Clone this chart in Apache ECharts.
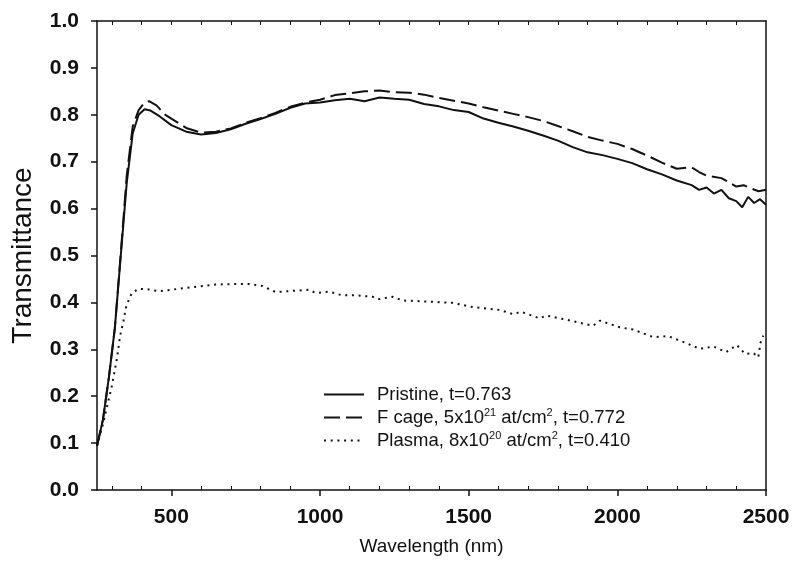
<!DOCTYPE html>
<html>
<head>
<meta charset="utf-8">
<script src="https://cdn.jsdelivr.net/npm/echarts@6/dist/echarts.min.js"></script>
<style>html,body{margin:0;padding:0;background:#fff}#c{width:795px;height:569px}</style>
</head>
<body>
<div id="c"></div>
<script>
// ---- data ----
const seriesNames = ['Pristine', 'F cage', 'Plasma'];
const legendLabels = {
  'Pristine': '{n|Pristine, t=0.763}',
  'F cage': '{n|F cage, 5x10}{s|21}{n| at/cm}{s|2}{n|, t=0.772}',
  'Plasma': '{n|Plasma, 8x10}{s|20}{n| at/cm}{s|2}{n|, t=0.410}'
};
const xMajorTicks = [500, 1000, 1500, 2000, 2500];
const yTicks = [0, 0.1, 0.2, 0.3, 0.4, 0.5, 0.6, 0.7, 0.8, 0.9, 1.0];

const pristineWl = [250, 270, 290, 310, 330, 350, 370, 390, 410, 430, 460, 500, 550, 600, 650, 700, 750, 800, 850, 900, 950, 1000, 1050, 1100, 1150, 1200, 1250, 1300, 1350, 1400, 1450, 1500, 1550, 1600, 1650, 1700, 1750, 1800, 1850, 1900, 1950, 2000, 2050, 2100, 2150, 2200, 2250, 2275, 2300, 2325, 2350, 2375, 2400, 2420, 2440, 2460, 2480, 2500];
const pristineT = [0.094, 0.15, 0.24, 0.345, 0.50, 0.655, 0.76, 0.80, 0.812, 0.809, 0.797, 0.778, 0.764, 0.758, 0.761, 0.769, 0.781, 0.791, 0.802, 0.815, 0.824, 0.826, 0.831, 0.834, 0.829, 0.837, 0.834, 0.832, 0.823, 0.818, 0.81, 0.806, 0.792, 0.783, 0.775, 0.766, 0.756, 0.745, 0.731, 0.72, 0.714, 0.706, 0.697, 0.684, 0.673, 0.66, 0.65, 0.64, 0.645, 0.632, 0.64, 0.622, 0.616, 0.603, 0.625, 0.612, 0.62, 0.608];

const fcageWl = [250, 270, 290, 310, 330, 350, 370, 390, 410, 425, 450, 480, 500, 550, 600, 650, 700, 750, 800, 850, 900, 950, 1000, 1050, 1100, 1150, 1200, 1250, 1300, 1350, 1400, 1450, 1500, 1550, 1600, 1650, 1700, 1750, 1800, 1850, 1900, 1950, 2000, 2050, 2100, 2150, 2200, 2250, 2275, 2300, 2350, 2400, 2425, 2450, 2475, 2500];
const fcageT = [0.094, 0.15, 0.24, 0.345, 0.505, 0.67, 0.775, 0.81, 0.826, 0.829, 0.82, 0.80, 0.792, 0.772, 0.762, 0.764, 0.771, 0.783, 0.793, 0.804, 0.817, 0.826, 0.832, 0.842, 0.846, 0.85, 0.852, 0.848, 0.847, 0.843, 0.836, 0.83, 0.824, 0.816, 0.809, 0.802, 0.795, 0.787, 0.776, 0.765, 0.753, 0.745, 0.738, 0.727, 0.713, 0.698, 0.685, 0.688, 0.678, 0.67, 0.665, 0.647, 0.65, 0.643, 0.637, 0.64];

const plasmaWl = [250, 270, 290, 300, 317, 328, 339, 347, 356, 367, 390, 420, 457, 500, 550, 592, 648, 700, 761, 806, 851, 896, 963, 986, 1030, 1075, 1120, 1177, 1199, 1244, 1278, 1357, 1446, 1514, 1604, 1649, 1677, 1739, 1761, 1829, 1918, 1941, 2008, 2053, 2121, 2171, 2233, 2277, 2323, 2366, 2402, 2430, 2458, 2474, 2482, 2491];
const plasmaT = [0.094, 0.14, 0.195, 0.222, 0.28, 0.33, 0.36, 0.388, 0.404, 0.42, 0.429, 0.428, 0.424, 0.427, 0.431, 0.434, 0.438, 0.439, 0.439, 0.435, 0.422, 0.424, 0.427, 0.42, 0.423, 0.415, 0.415, 0.412, 0.407, 0.412, 0.404, 0.402, 0.399, 0.39, 0.384, 0.375, 0.38, 0.366, 0.372, 0.363, 0.35, 0.361, 0.347, 0.342, 0.326, 0.328, 0.313, 0.301, 0.306, 0.294, 0.309, 0.29, 0.292, 0.283, 0.315, 0.329];

// ---- chart ----
const FONT = '"Liberation Sans", Arial, Helvetica, sans-serif';
const INK = '#111';
const pairs = (xs, ys) => xs.map((x, i) => [x, ys[i]]);
const minor = [];
for (let v = 300; v <= 2400; v += 100) if (v % 500 !== 0) minor.push(v);
const all100 = [];
for (let v = 300; v <= 2400; v += 100) all100.push(v);

const chart = echarts.init(document.getElementById('c'), null, {renderer: 'canvas'});
chart.setOption({
  animation: false,
  backgroundColor: '#fff',
  grid: {left: 97, right: 29, top: 21, bottom: 79, containLabel: false},
  xAxis: [
    {
      type: 'value', min: 250, max: 2500, position: 'bottom',
      name: 'Wavelength (nm)', nameLocation: 'middle', nameGap: 47,
      nameTextStyle: {fontFamily: FONT, fontSize: 19, color: INK},
      axisLine: {show: true, lineStyle: {color: INK, width: 1.5}},
      axisTick: {show: true, inside: false, length: 6, customValues: xMajorTicks, lineStyle: {color: INK, width: 1.5}},
      axisLabel: {show: true, margin: 17, customValues: xMajorTicks, formatter: v => String(v), fontFamily: FONT, fontSize: 21, fontWeight: 'bold', color: INK},
      splitLine: {show: false}
    },
    {
      type: 'value', min: 250, max: 2500, position: 'bottom',
      axisLine: {show: false},
      axisTick: {show: true, inside: true, length: 4, customValues: minor, lineStyle: {color: INK, width: 1}},
      axisLabel: {show: false}, splitLine: {show: false}
    },
    {
      type: 'value', min: 250, max: 2500, position: 'top',
      axisLine: {show: true, lineStyle: {color: INK, width: 1.5}},
      axisTick: {show: true, inside: true, length: 4, customValues: all100, lineStyle: {color: INK, width: 1}},
      axisLabel: {show: false}, splitLine: {show: false}
    }
  ],
  yAxis: [
    {
      type: 'value', min: 0, max: 1, interval: 0.1, position: 'left',
      name: 'Transmittance', nameLocation: 'middle', nameGap: 60, nameRotate: 90,
      nameTextStyle: {fontFamily: FONT, fontSize: 28, color: INK},
      axisLine: {show: true, lineStyle: {color: INK, width: 1.5}},
      axisTick: {show: true, inside: false, length: 6, customValues: yTicks, lineStyle: {color: INK, width: 1.5}},
      axisLabel: {show: true, margin: 18, customValues: yTicks, formatter: v => v.toFixed(1), fontFamily: FONT, fontSize: 21, fontWeight: 'bold', color: INK},
      splitLine: {show: false}
    },
    {
      type: 'value', min: 0, max: 1, position: 'right',
      axisLine: {show: true, lineStyle: {color: INK, width: 1.5}},
      axisTick: {show: false}, axisLabel: {show: false}, splitLine: {show: false}
    }
  ],
  legend: {
    orient: 'vertical', left: 318, top: 380,
    itemWidth: 40, itemHeight: 12, itemGap: 3,
    data: seriesNames,
    formatter: name => legendLabels[name],
    itemStyle: {opacity: 0, borderWidth: 0},
    textStyle: {
      color: INK, fontFamily: FONT, fontSize: 18.5, padding: [0, 0, 0, 8],
      rich: {
        n: {fontFamily: FONT, fontSize: 18.5, color: INK},
        s: {fontFamily: FONT, fontSize: 11, color: INK, padding: [0, 0, 10, 0]}
      }
    }
  },
  series: [
    {
      name: seriesNames[1], type: 'line', xAxisIndex: 0, yAxisIndex: 0,
      data: pairs(fcageWl, fcageT), symbol: 'none', showSymbol: false,
      lineStyle: {color: INK, width: 2, type: [16, 6]}, itemStyle: {color: INK}
    },
    {
      name: seriesNames[0], type: 'line', xAxisIndex: 0, yAxisIndex: 0,
      data: pairs(pristineWl, pristineT), symbol: 'none', showSymbol: false,
      lineStyle: {color: INK, width: 2, type: 'solid'}, itemStyle: {color: INK}
    },
    {
      name: seriesNames[2], type: 'line', xAxisIndex: 0, yAxisIndex: 0,
      data: pairs(plasmaWl, plasmaT), symbol: 'none', showSymbol: false,
      lineStyle: {color: INK, width: 2, type: [2, 4.7]}, itemStyle: {color: INK}
    }
  ]
});
</script>
</body>
</html>
